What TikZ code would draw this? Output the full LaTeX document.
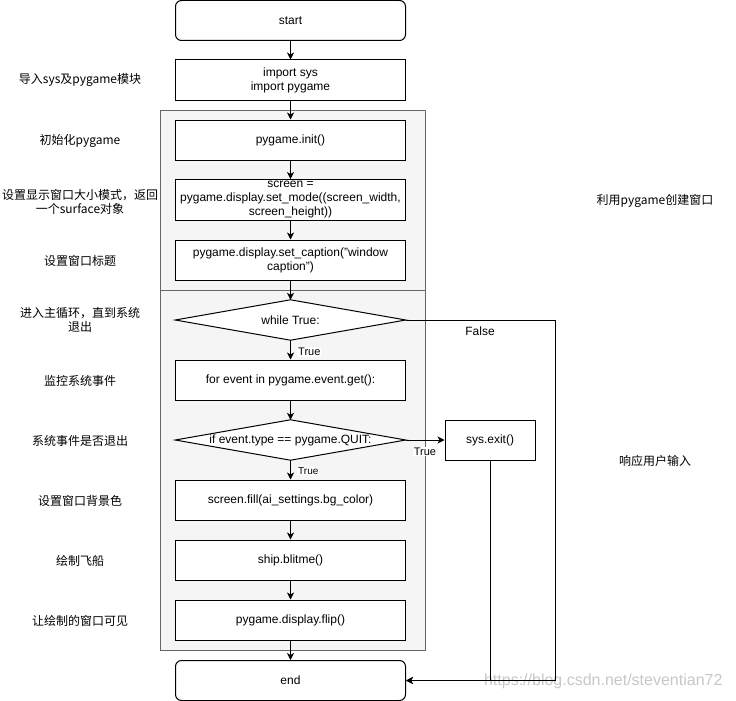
\documentclass[tikz,border=0pt]{standalone}
\usepackage{fontspec}
\setmainfont{Liberation Sans}
\newfontfamily\cjk{Noto Sans CJK SC}
\usetikzlibrary{arrows.meta}
\definecolor{grpfill}{HTML}{F5F5F5}
\definecolor{grpline}{HTML}{666666}
\begin{document}
\begin{tikzpicture}[x=1pt,y=-1pt,
  every node/.style={font=\fontsize{12}{14}\selectfont, align=center},
  stepbox/.style={draw, line width=1pt, fill=white, minimum width=230pt, minimum height=40pt, inner sep=2pt},
  termbox/.style={stepbox, rounded corners=6pt},
  diabox/.style={minimum width=230pt, minimum height=40pt, inner sep=0pt},
  grp/.style={draw=grpline, fill=grpfill, line width=0.8pt},
  note/.style={font=\cjk\fontsize{12}{14}\selectfont},
  elabel/.style={fill=white, inner sep=1pt, font=\fontsize{11}{13}\selectfont},
  flow/.style={line width=1pt, -{Stealth[length=7pt,width=7pt,inset=2pt]}},
  line/.style={line width=1pt}
]
\useasboundingbox (0,0) rectangle (736,701);
% group containers
\draw[grp] (160,110) rectangle (425,290);
\draw[grp] (160,290) rectangle (425,650);

% watermark (behind lines)
\node[font=\fontsize{16}{18}\selectfont, text=black!22, anchor=east] (wm) at (726,681) {https://blog.csdn.net/steventian72};

% main nodes
\node[termbox] (start) at (290.5,20.5) {start};
\node[stepbox] (imp) at (290.5,80) {import sys\\import pygame};
\node[stepbox] (init) at (290.5,140) {pygame.init()};
\node[stepbox] (mode) at (290.5,200) {screen =\\pygame.display.set\_mode((screen\_width,\\screen\_height))};
\node[stepbox] (cap) at (290.5,260) {pygame.display.set\_caption("window\\caption")};
\node[diabox] (wh) at (290.5,320) {while True:};
\draw[line, fill=white] (wh.west) -- (wh.north) -- (wh.east) -- (wh.south) -- cycle;
\node[diabox] at (wh) {while True:};
\node[stepbox] (for) at (290.5,380) {for event in pygame.event.get():};
\node[diabox] (iff) at (290.5,440) {if event.type == pygame.QUIT:};
\draw[line, fill=white] (iff.west) -- (iff.north) -- (iff.east) -- (iff.south) -- cycle;
\node[diabox] at (iff) {if event.type == pygame.QUIT:};
\node[stepbox] (fill) at (290.5,500) {screen.fill(ai\_settings.bg\_color)};
\node[stepbox] (ship) at (290.5,560) {ship.blitme()};
\node[stepbox] (flip) at (290.5,620) {pygame.display.flip()};
\node[termbox] (end) at (290.5,680.5) {end};
\node[stepbox, minimum width=90pt] (exit) at (490,440) {sys.exit()};

% connectors
\draw[flow] (start) -- (imp);
\draw[flow] (imp) -- (init);
\draw[flow] (init) -- (mode);
\draw[flow] (mode) -- (cap);
\draw[flow] (cap) -- (wh.north);
\draw[flow] (wh.south) -- (for);
\draw[flow] (for) -- (iff.north);
\draw[flow] (iff.south) -- (fill);
\draw[flow] (fill) -- (ship);
\draw[flow] (ship) -- (flip);
\draw[flow] (flip) -- (end);
\draw[flow] (iff.east) -- (exit.west);
\coordinate (fr) at (555,320);
\draw[flow] (wh.east) -- (fr) |- (end.east);
\draw[flow] (exit.south) |- (end.east);

% edge labels
\node[elabel, anchor=west] (t1) at (297,352) {True};
\node[elabel, anchor=west, font=\fontsize{10}{12}\selectfont] (t2) at (297,471) {True};
\node[elabel] (t3) at (425,451.5) {True};
\node[font=\fontsize{12}{14}\selectfont] (fl) at (480,331.5) {False};

% left annotations
\node[note] (n1) at (80,80) {导入sys及pygame模块};
\node[note] (n2) at (80,141) {初始化pygame};
\node[note] (n3) at (80,201.5) {设置显示窗口大小模式，返回\\一个surface对象};
\node[note] (n4) at (80,261) {设置窗口标题};
\node[note] (n5) at (80,320) {进入主循环，直到系统\\退出};
\node[note] (n6) at (80,381) {监控系统事件};
\node[note] (n7) at (80,441) {系统事件是否退出};
\node[note] (n8) at (80,501) {设置窗口背景色};
\node[note] (n9) at (80,561) {绘制飞船};
\node[note] (n10) at (80,621) {让绘制的窗口可见};
% right annotations
\node[note] (r1) at (655,201) {利用pygame创建窗口};
\node[note] (r2) at (655,461) {响应用户输入};
\end{tikzpicture}
\end{document}
